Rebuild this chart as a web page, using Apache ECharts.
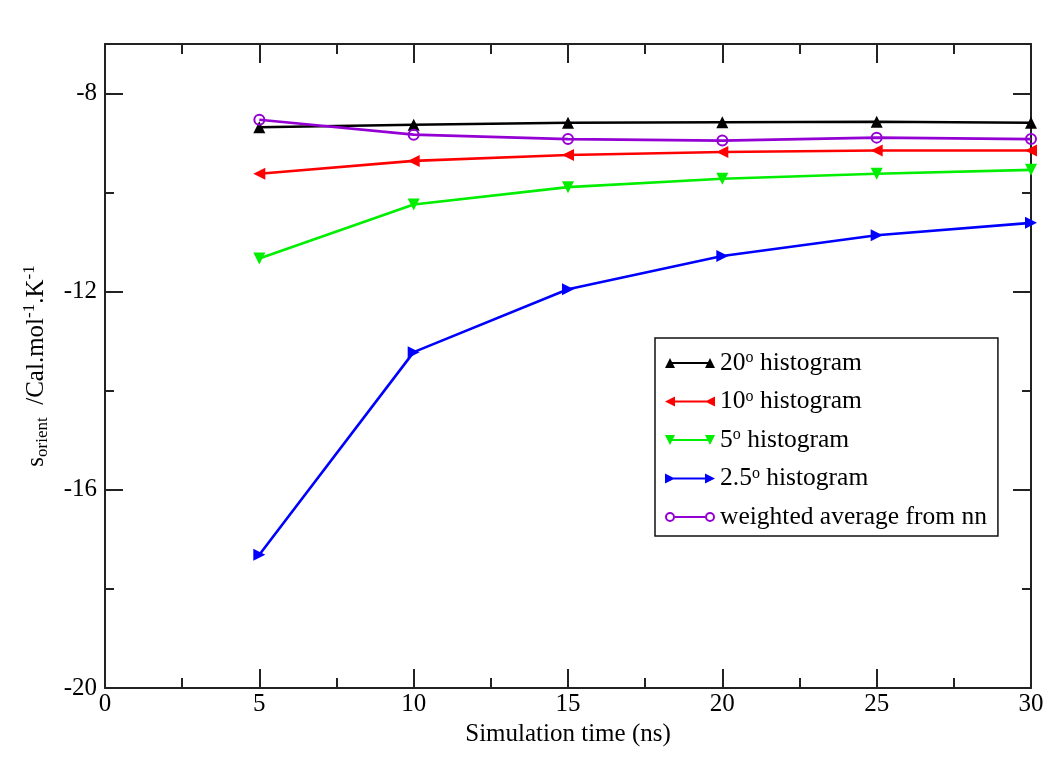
<!DOCTYPE html>
<html><head><meta charset="utf-8">
<script src="https://cdn.jsdelivr.net/npm/echarts@6/dist/echarts.min.js"></script>
<style>html,body{margin:0;padding:0;background:#fff}#c{width:1050px;height:760px}</style>
</head><body><div id="c"></div>
<script>
const times = [5, 10, 15, 20, 25, 30];
const hist20 = [-8.68, -8.63, -8.59, -8.58, -8.57, -8.59];
const hist10 = [-9.62, -9.36, -9.24, -9.18, -9.15, -9.15];
const hist5 = [-11.33, -10.24, -9.89, -9.72, -9.62, -9.54];
const hist25 = [-17.31, -13.22, -11.95, -11.28, -10.86, -10.61];
const nnAvg = [-8.53, -8.83, -8.92, -8.95, -8.89, -8.92];
const seriesNames = ['20° histogram', '10° histogram', '5° histogram', '2.5° histogram', 'weighted average from nn'];
const legendTexts = ['20{sup|o} histogram', '10{sup|o} histogram', '5{sup|o} histogram', '2.5{sup|o} histogram', 'weighted average from nn'];
const xTitle = 'Simulation time (ns)';
const yTitle = '{m|s}{sub|orient}{m|  /Cal.mol}{sup|-1}{m|.K}{sup|-1}';

const FONT = 'Liberation Serif';
const colors = ['#000000', '#ff0000', '#00ee00', '#0000ff', '#9400d3'];
const icons = [
  'path://M0,10 L5,0 L10,10 Z M5,4 L45,4 L45,6 L5,6 Z M40,10 L45,0 L50,10 Z',
  'path://M0,5 L10,0 L10,10 Z M5,4 L45,4 L45,6 L5,6 Z M40,5 L50,0 L50,10 Z',
  'path://M0,0 L10,0 L5,10 Z M5,4 L45,4 L45,6 L5,6 Z M40,0 L50,0 L45,10 Z',
  'path://M0,0 L10,5 L0,10 Z M5,4 L45,4 L45,6 L5,6 Z M40,0 L50,5 L40,10 Z',
  'path://M0,5 A5,5 0 1,1 10,5 A5,5 0 1,1 0,5 Z M2,5 A3,3 0 1,0 8,5 A3,3 0 1,0 2,5 Z M10,4 L40,4 L40,6 L10,6 Z M40,5 A5,5 0 1,1 50,5 A5,5 0 1,1 40,5 Z M42,5 A3,3 0 1,0 48,5 A3,3 0 1,0 42,5 Z'
];
const dataSets = [hist20, hist10, hist5, hist25, nnAvg];
const symbols = ['triangle', 'triangle', 'triangle', 'triangle', 'circle'];
const rotations = [0, 90, 180, -90, 0];

const axisLineStyle = {color: '#222', width: 2};
const labelStyle = {color: '#000', fontFamily: FONT, fontSize: 25};

function yAxisDef(pos, major, withLabel) {
  return {
    type: 'value', position: pos, min: -20, max: -7, interval: major ? 4 : 2,
    axisLine: {show: major, lineStyle: axisLineStyle},
    axisTick: {show: true, inside: true, length: major ? 18 : 9, lineStyle: axisLineStyle},
    axisLabel: {show: withLabel, showMaxLabel: false, margin: 8, ...labelStyle},
    splitLine: {show: false}
  };
}

const chart = echarts.init(document.getElementById('c'), null, {renderer: 'canvas'});
const yAxes = [yAxisDef('left', true, true), yAxisDef('left', false, false), yAxisDef('right', true, false), yAxisDef('right', false, false)];
yAxes[0].name = yTitle;
yAxes[0].nameLocation = 'middle';
yAxes[0].nameRotate = 90;
yAxes[0].nameGap = 54;
yAxes[0].nameTextStyle = {
  fontFamily: FONT, color: '#000',
  rich: {
    m: {fontFamily: FONT, fontSize: 25, lineHeight: 30, color: '#000'},
    sub: {fontFamily: FONT, fontSize: 17, lineHeight: 17, verticalAlign: 'bottom', color: '#000'},
    sup: {fontFamily: FONT, fontSize: 17, lineHeight: 17, verticalAlign: 'top', color: '#000'}
  }
};

const option = {
  backgroundColor: '#fff',
  animation: false,
  grid: {left: 105, right: 19, top: 44, bottom: 72},
  xAxis: [
    {
      type: 'value', position: 'bottom', min: 0, max: 30, interval: 5,
      name: xTitle, nameLocation: 'middle', nameGap: 31,
      nameTextStyle: {fontFamily: FONT, fontSize: 25, color: '#000'},
      axisLine: {lineStyle: axisLineStyle},
      axisTick: {inside: true, length: 19, lineStyle: axisLineStyle},
      minorTick: {show: true, splitNumber: 2, length: 10, lineStyle: axisLineStyle},
      axisLabel: {margin: 4, ...labelStyle},
      splitLine: {show: false}, minorSplitLine: {show: false}
    },
    {
      type: 'value', position: 'top', min: 0, max: 30, interval: 5,
      axisLine: {lineStyle: axisLineStyle},
      axisTick: {inside: true, length: 19, lineStyle: axisLineStyle},
      minorTick: {show: true, splitNumber: 2, length: 10, lineStyle: axisLineStyle},
      axisLabel: {show: false},
      splitLine: {show: false}, minorSplitLine: {show: false}
    }
  ],
  yAxis: yAxes,
  legend: {
    orient: 'vertical', left: 655, top: 338,
    padding: [12, 11, 6, 10],
    backgroundColor: '#fff', borderColor: '#111', borderWidth: 1.5, borderRadius: 0,
    itemWidth: 50, itemHeight: 10, itemGap: 12.5,
    itemStyle: {borderWidth: 0},
    data: seriesNames.map((n, i) => ({name: n, icon: icons[i], itemStyle: {color: colors[i], borderWidth: 0}})),
    formatter: function (name) { return legendTexts[seriesNames.indexOf(name)]; },
    textStyle: {
      fontFamily: FONT, fontSize: 25.5, lineHeight: 26, color: '#000',
      rich: {
        sup: {fontFamily: FONT, fontSize: 16, lineHeight: 16, verticalAlign: 'top', color: '#000'}
      }
    }
  },
  series: dataSets.map((vals, i) => ({
    name: seriesNames[i],
    type: 'line',
    xAxisIndex: 0, yAxisIndex: 0,
    data: times.map((t, j) => [t, vals[j]]),
    symbol: symbols[i],
    symbolRotate: rotations[i],
    symbolSize: i === 4 ? 10 : 12,
    showAllSymbol: true,
    lineStyle: {color: colors[i], width: 2.6},
    itemStyle: i === 4
      ? {color: 'rgba(0,0,0,0)', borderColor: colors[i], borderWidth: 2}
      : {color: colors[i], borderWidth: 0},
    emphasis: {disabled: true},
    z: 2 + i
  }))
};
chart.setOption(option);
</script>
</body></html>
